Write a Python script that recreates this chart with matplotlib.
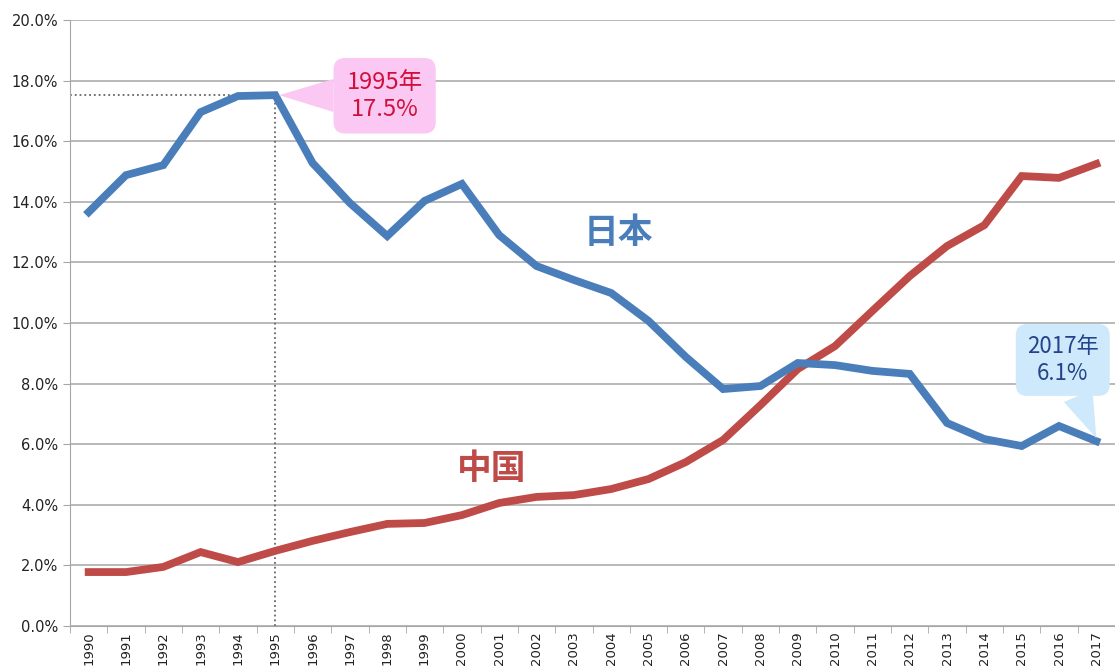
import numpy as np
import matplotlib
matplotlib.use("Agg")
import matplotlib.pyplot as plt
from matplotlib.ticker import FixedLocator, FuncFormatter

plt.rcParams['font.family'] = ['Noto Sans CJK JP', 'DejaVu Sans']

years = list(range(1990, 2018))
japan = [13.66, 14.88, 15.21, 16.96, 17.49, 17.52, 15.28, 13.96, 12.87, 14.03,
         14.59, 12.90, 11.88, 11.42, 10.99, 10.07, 8.88, 7.82, 7.92, 8.68,
         8.61, 8.42, 8.32, 6.70, 6.17, 5.94, 6.60, 6.10]
china = [1.78, 1.78, 1.95, 2.44, 2.11, 2.48, 2.81, 3.10, 3.37, 3.40,
         3.66, 4.06, 4.26, 4.32, 4.52, 4.85, 5.41, 6.14, 7.29, 8.48,
         9.24, 10.40, 11.55, 12.54, 13.23, 14.85, 14.79, 15.25]
yticks = [0, 2, 4, 6, 8, 10, 12, 14, 16, 18, 20]

BLUE = "#4a7ebb"
RED = "#be4b48"

fig = plt.figure(figsize=(11.15, 6.71), dpi=100)
ax = fig.add_axes([70 / 1115, 45 / 671, 1045 / 1115, 606 / 671])

x = np.arange(len(years))
ax.plot(x, japan, color=BLUE, lw=5.6, solid_joinstyle="miter", zorder=4)
ax.plot(x, china, color=RED, lw=5.6, solid_joinstyle="miter", zorder=3)

ax.set_xlim(-0.5, len(years) - 0.5)
ax.set_ylim(0, 20)
ax.set_yticks(yticks)
ax.yaxis.set_major_formatter(FuncFormatter(lambda v, p: f"{v:.1f}%"))
ax.grid(axis="y", color="#a6a6a6", lw=1.1)
ax.set_axisbelow(True)

ax.set_xticks(x)
ax.set_xticklabels([str(y) for y in years], rotation=90, fontsize=9.5,
                   family="DejaVu Sans", color="#222222")
ax.xaxis.set_minor_locator(FixedLocator(np.arange(-0.5, len(years), 1.0)))
ax.tick_params(axis="x", which="major", length=0, pad=4)
ax.tick_params(axis="x", which="minor", length=5, color="#a6a6a6")
ax.tick_params(axis="y", length=5, color="#a6a6a6", labelsize=10.5, labelcolor="#222222")
for lbl in ax.get_yticklabels():
    lbl.set_family("DejaVu Sans")

for s in ["top", "right"]:
    ax.spines[s].set_visible(False)
for s in ["left", "bottom"]:
    ax.spines[s].set_color("#a6a6a6")

# dotted guides to the 1995 peak
i95 = years.index(1995)
ax.plot([-0.5, x[i95]], [japan[i95], japan[i95]], ls=":", color="#666666", lw=1.3, zorder=2)
ax.plot([x[i95], x[i95]], [0, japan[i95]], ls=":", color="#666666", lw=1.3, zorder=2)

# series labels
ax.text(14.2, 13.0, "日本", color=BLUE, fontsize=25, fontweight="bold", ha="center", va="center")
ax.text(10.8, 5.2, "中国", color=RED, fontsize=25, fontweight="bold", ha="center", va="center")

# callouts
ax.annotate("1995年\n17.5%", xy=(x[i95] + 0.1, japan[i95]), xytext=(7.93, 17.5),
            ha="center", va="center", fontsize=17, color="#d0103a", linespacing=1.2,
            bbox=dict(boxstyle="round,pad=0.55,rounding_size=0.5", fc="#fbc8f3", ec="none"),
            arrowprops=dict(arrowstyle="wedge,tail_width=1.4,shrink_factor=0.5",
                            fc="#fbc8f3", ec="none", shrinkA=0, shrinkB=0),
            zorder=6)
i17 = years.index(2017)
ax.annotate("2017年\n6.1%", xy=(x[i17], japan[i17] + 0.1), xytext=(26.1, 8.78),
            ha="center", va="center", fontsize=16, color="#24438a", linespacing=1.2,
            bbox=dict(boxstyle="round,pad=0.5,rounding_size=0.5", fc="#cde9fb", ec="none"),
            arrowprops=dict(arrowstyle="wedge,tail_width=1.4,shrink_factor=0.5",
                            fc="#cde9fb", ec="none", shrinkA=0, shrinkB=0),
            zorder=6)

fig.savefig("out.png", dpi=100)
